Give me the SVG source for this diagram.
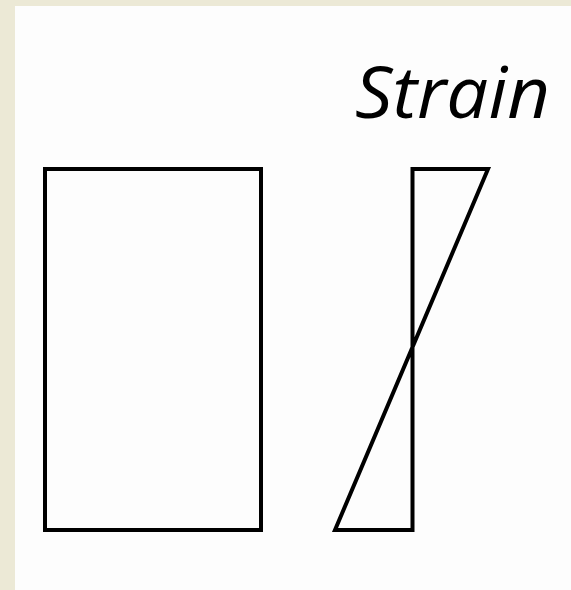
<svg xmlns="http://www.w3.org/2000/svg" width="571" height="590" viewBox="0 0 571 590">
<style>
.shape{fill:none;stroke:#000;stroke-width:4;stroke-linejoin:miter}
.label{font-family:"Open Sans","Liberation Sans",sans-serif;font-style:italic;font-size:72px;fill:#000}
</style>
<rect x="0" y="0" width="571" height="590" fill="#ece9d6"/>
<rect x="15" y="6" width="556" height="584" fill="#fdfdfd"/>
<g id="section">
<rect class="shape" x="45" y="169" width="216" height="361"/>
</g>
<g id="strain">
<polygon class="shape" points="412.5,169 488,169 335,530 412.5,530"/>
<text class="label" x="355" y="118" textLength="195" lengthAdjust="spacingAndGlyphs">Strain</text>
</g>
</svg>
